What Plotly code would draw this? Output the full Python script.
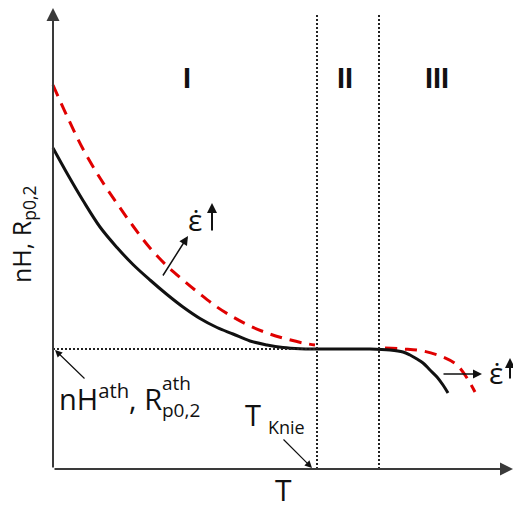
import plotly.graph_objects as go

# Schematic data (T in arbitrary units, nH in arbitrary units)
T_black = [0, 15, 30, 47, 64, 80, 97, 114, 130, 147, 164, 180, 197, 214, 230, 247, 264, 290, 317, 337, 350, 357, 364, 370, 377, 384, 390, 395]
nH_black = [321, 294, 268.5, 242, 221.5, 204.5, 189, 174.5, 162, 150.5, 141.5, 135, 128, 124, 121.5, 120.3, 120, 120, 120, 119, 117, 114, 110, 106, 99, 92, 84, 76]

T_red_I = [0, 14, 30, 47, 64, 80, 97, 114, 130, 147, 164, 180, 197, 214, 230, 250, 262]
nH_red_I = [384, 353, 320, 291, 265.5, 243, 221, 203, 189, 175, 162, 152, 143, 136, 131, 126, 124]
T_red_III = [332, 350, 370, 390, 404, 414, 422]
nH_red_III = [121, 120, 118, 112, 104, 91, 77]

T_knee = 264      # boundary I / II
T_III = 326       # boundary II / III
nH_ath = 120
T_max = 460
nH_max = 461

regions = ["I", "II", "III"]
region_T = [134, 292, 384]
region_nH = [391, 391, 391]

FONT = "Open Sans"

fig = go.Figure()

fig.add_trace(go.Scatter(x=T_red_I, y=nH_red_I, mode="lines",
                         line=dict(color="#e00000", width=3, dash="12px,8px", shape="spline")))
fig.add_trace(go.Scatter(x=T_red_III, y=nH_red_III, mode="lines",
                         line=dict(color="#e00000", width=3, dash="12px,8px", shape="spline")))
fig.add_trace(go.Scatter(x=T_black, y=nH_black, mode="lines",
                         line=dict(color="#111111", width=3, shape="spline")))

# dotted reference lines
fig.add_trace(go.Scatter(x=[0, T_knee], y=[nH_ath, nH_ath], mode="lines",
                         line=dict(color="#222222", width=2, dash="2px,2px")))
fig.add_trace(go.Scatter(x=[T_knee, T_knee], y=[0, 456], mode="lines",
                         line=dict(color="#222222", width=2, dash="2px,2px")))
fig.add_trace(go.Scatter(x=[T_III, T_III], y=[0, 456], mode="lines",
                         line=dict(color="#222222", width=2, dash="2px,2px")))

ann = []

def arrow(x0, y0, x1, y1, width=1.5, size=1.2, color="#111111"):
    ann.append(dict(x=x1, y=y1, ax=x0, ay=y0, xref="x", yref="y", axref="x", ayref="y",
                    text="", showarrow=True, arrowhead=2, arrowsize=size, arrowwidth=width,
                    arrowcolor=color, standoff=0, startstandoff=0))

# axes with arrows
arrow(0, 0, 0, nH_max, width=2, size=1.3, color="#3a3a3a")
arrow(0, 0, T_max, 0, width=2, size=1.3, color="#3a3a3a")

# strain-rate arrows
arrow(109, 192, 135, 233)
arrow(389, 95, 429, 95)
arrow(159, 237, 159, 266, width=2, size=1.0)
arrow(457, 89, 457, 111, width=2, size=1.0)

# pointers
arrow(33, 89, 2, 119, width=1.2)
arrow(229, 31, 259, 1, width=1.2)

def text(x, y, s, size, angle=0, xanchor="center", yanchor="middle"):
    ann.append(dict(x=x, y=y, xref="x", yref="y", text=s, showarrow=False,
                    font=dict(family=FONT, size=size, color="#111111"),
                    textangle=angle, xanchor=xanchor, yanchor=yanchor))

for r, tx, ty in zip(regions, region_T, region_nH):
    ann.append(dict(x=tx, y=ty, xref="x", yref="y", text="<b>" + r + "</b>", showarrow=False,
                    font=dict(family="Liberation Sans", size=29, color="#111111")))

text(-31, 234, "nH, R<sub>p0,2</sub>", 25, angle=-90)
text(230, -20, "T", 30)
text(4, 72, "nH<sup>ath</sup>, R", 29, xanchor="left", yanchor="middle")
text(107, 86, "ath", 19, xanchor="left")
text(107, 59, "p0,2", 19, xanchor="left")
text(190, 55, "T", 29, xanchor="left")
text(213, 42, "Knie", 18, xanchor="left")
text(142, 250, "ε̇", 30)
text(443, 97, "ε̇", 30)

fig.update_layout(
    width=513, height=509, autosize=False,
    margin=dict(l=0, r=0, t=0, b=0),
    paper_bgcolor="white", plot_bgcolor="white",
    showlegend=False, hovermode=False,
    xaxis=dict(range=[-53, 460], visible=False, fixedrange=True),
    yaxis=dict(range=[-40, 469], visible=False, fixedrange=True),
    annotations=ann,
)

fig.write_html("out.html")
